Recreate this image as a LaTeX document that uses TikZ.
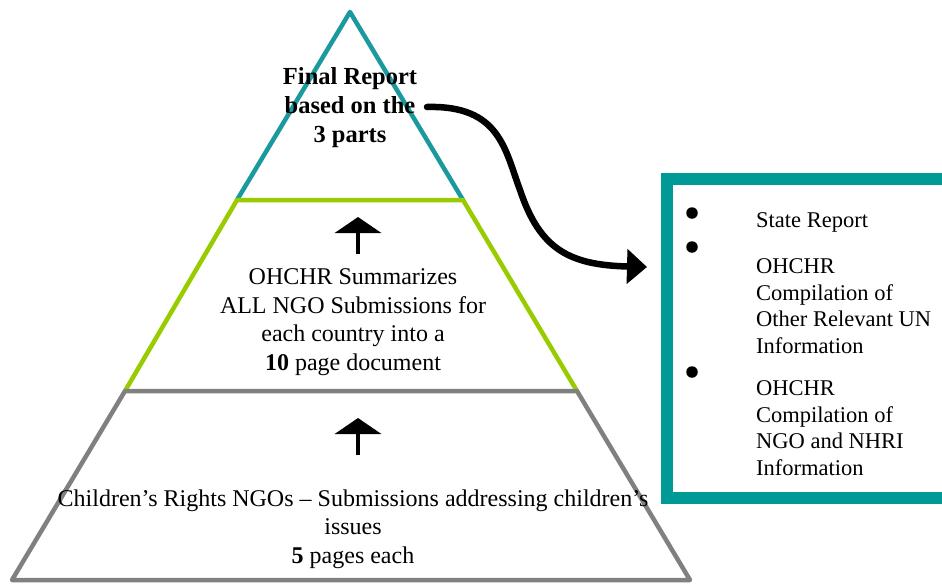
\documentclass[tikz,border=0pt]{standalone}
\usepackage{fontspec}
\setmainfont{Liberation Serif}
\usepackage{xcolor}
\usetikzlibrary{arrows.meta}
\definecolor{tealtop}{HTML}{1A9A9E}
\definecolor{tealbox}{HTML}{009A96}
\definecolor{lime}{HTML}{99CC00}
\definecolor{stone}{HTML}{808080}
\definecolor{ink}{HTML}{000000}
\tikzset{
  topedge/.style={draw=tealtop, line width=4.5pt, line cap=round, line join=round},
  midedge/.style={draw=lime, line width=4.5pt, line cap=round, line join=round},
  lowedge/.style={draw=stone, line width=4.5pt, line cap=round, line join=round},
  boxedge/.style={draw=tealbox, line width=12pt},
  uparr/.style={draw=ink, line width=4pt, -{Triangle[length=16pt,width=46pt]}},
  swoop/.style={draw=ink, line width=6.5pt, line cap=round, -{Triangle[length=20pt,width=34pt]}},
  dot/.style={circle, fill=ink, inner sep=0pt, minimum size=11.5pt},
  lab/.style={text=ink, font=\fontsize{24}{28.5}\selectfont, align=center, inner sep=0pt},
  labb/.style={lab, font=\fontsize{24.5}{29}\selectfont\bfseries},
  labbox/.style={text=ink, font=\fontsize{22.5}{26.5}\selectfont, align=left, anchor=west, inner sep=0pt},
}
\begin{document}
\begin{tikzpicture}[x=1pt,y=-1pt]
  \useasboundingbox (0,0) rectangle (942,584);
  \coordinate (apex) at (350,12);
  \coordinate (tl) at (237,200);
  \coordinate (tr) at (463,200);
  \coordinate (ml) at (125,391);
  \coordinate (mr) at (577,391);
  \coordinate (bl) at (12,580);
  \coordinate (br) at (690,580);

  % pyramid layers
  \draw[topedge] (tl) -- (apex) -- (tr);
  \draw[midedge] (ml) -- (tl) -- (tr) -- (mr);
  \draw[lowedge] (ml) -- (mr) -- (br) -- (bl) -- cycle;

  % texts in the layers
  \node[labb] (final) at (350,108) {Final Report\\based on the\\3 parts};
  \node[lab] (summ) at (353,322) {OHCHR Summarizes\\ALL NGO Submissions for\\each country into a\\\textbf{10} page document};
  \node[lab] (ngos) at (353,529) {Children’s Rights NGOs – Submissions addressing children’s\\issues\\\textbf{5} pages each};

  % upward arrows
  \coordinate (up1s) at (358,254);
  \coordinate (up1t) at (358,217);
  \coordinate (up2s) at (358,455);
  \coordinate (up2t) at (358,418);
  \draw[uparr] (up1s) -- (up1t);
  \draw[uparr] (up2s) -- (up2t);

  % result box
  \draw[boxedge] (970,179) -- (667,179) -- (667,498) -- (970,498);
  \node[dot] (b1) at (692,213) {};
  \node[dot] (b2) at (692,247) {};
  \node[dot] (b3) at (692,372) {};
  \node[labbox] (state) at (756,222) {State Report};
  \node[labbox] (other) at (756,306) {OHCHR\\Compilation of\\Other Relevant UN\\Information};
  \node[labbox] (nhri) at (756,428) {OHCHR\\Compilation of\\NGO and NHRI\\Information};

  % curved arrow from the top to the box
  \coordinate (fout) at (427,107);
  \coordinate (bin) at (647,267);
  \draw[swoop] (fout) .. controls (500,105) and (505,150) .. (520,190)
    .. controls (540,250) and (570,265) .. (bin);
\end{tikzpicture}
\end{document}
